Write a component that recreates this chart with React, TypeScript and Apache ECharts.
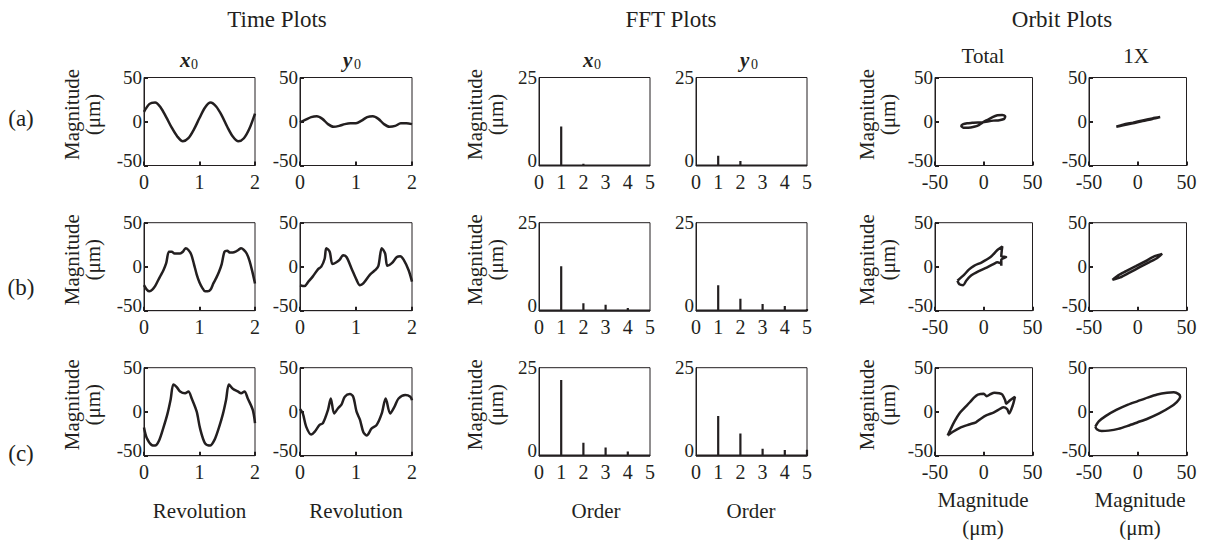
import React, { useEffect, useRef } from "react";
import * as echarts from "echarts";

const INK = "#231f20";
const FONT = "'Liberation Serif', 'Times New Roman', serif";

// ---------- Time plots (revolution, magnitude µm) ----------
const timeX0A = [[0, 11], [0.1, 20], [0.2, 21.5], [0.3, 16], [0.4, 5], [0.5, -7], [0.6, -17], [0.7, -22.5], [0.8, -19], [0.9, -9], [1.0, 4], [1.1, 16], [1.2, 21.5], [1.3, 17], [1.4, 7], [1.5, -6], [1.6, -17], [1.7, -22.5], [1.8, -19], [1.9, -8], [2.0, 9]];
const timeY0A = [[0, -1], [0.1, 2], [0.2, 5], [0.3, 6], [0.4, 3], [0.5, -3], [0.6, -6], [0.7, -5], [0.8, -3], [0.9, -2], [1.0, -2], [1.1, 1], [1.2, 5], [1.3, 6], [1.4, 3], [1.5, -3], [1.6, -6], [1.7, -5], [1.8, -2], [1.9, -2], [2.0, -3]];
const timeX0B = [[0, -21], [0.05, -26], [0.1, -28], [0.15, -26], [0.2, -22], [0.25, -16], [0.3, -10], [0.35, -4], [0.4, 4], [0.45, 17], [0.5, 17], [0.55, 15], [0.6, 15], [0.65, 15], [0.7, 17], [0.75, 21], [0.8, 19], [0.85, 14], [0.9, 3], [0.95, -9], [1.0, -18], [1.05, -24], [1.1, -28], [1.15, -28], [1.2, -26], [1.25, -19], [1.3, -13], [1.35, -6], [1.4, 3], [1.45, 17], [1.5, 18], [1.55, 16], [1.6, 16], [1.65, 17], [1.7, 19], [1.75, 21], [1.8, 19], [1.85, 15], [1.9, 7], [1.95, -5], [2.0, -19]];
const timeY0B = [[0, -21], [0.08, -22], [0.15, -17], [0.23, -11], [0.32, -3], [0.38, 0], [0.44, 9], [0.47, 21], [0.53, 17], [0.58, 3], [0.65, 5], [0.71, 8], [0.77, 13], [0.83, 11], [0.92, -2], [1.01, -15], [1.07, -21], [1.13, -19], [1.25, -9], [1.34, -4], [1.4, 1], [1.46, 21], [1.52, 15], [1.56, 1], [1.64, 4], [1.73, 11], [1.79, 12], [1.85, 8], [1.94, -4], [2.0, -17]];
const timeX0C = [[0, -18], [0.05, -30], [0.14, -38], [0.2, -38.5], [0.27, -33], [0.35, -18], [0.42, -3], [0.48, 14], [0.53, 31], [0.59, 28], [0.65, 23], [0.74, 21], [0.8, 23], [0.86, 15], [0.95, 0], [1.01, -19], [1.1, -36], [1.19, -38.5], [1.27, -32], [1.35, -18], [1.42, -3], [1.48, 14], [1.53, 31], [1.6, 26], [1.69, 23], [1.75, 21], [1.81, 23], [1.87, 15], [1.96, 2], [2.0, -13]];
const timeY0C = [[0, 3], [0.05, -2], [0.11, -17], [0.2, -26], [0.26, -23], [0.35, -15], [0.41, -13], [0.5, 2], [0.55, 15], [0.61, -2], [0.68, 4], [0.74, 8], [0.8, 17], [0.89, 20], [0.95, 17], [1.01, 0], [1.07, -9], [1.13, -23], [1.19, -27], [1.28, -19], [1.37, -15], [1.46, -2], [1.53, 15], [1.61, -2], [1.69, 6], [1.76, 15], [1.88, 19], [1.97, 17], [2.0, 13]];

// ---------- FFT plots (order, magnitude µm) ----------
const orders = [1, 2, 3, 4, 5];
const fftX0A = [11.1, 0.5, 0.1, 0.1, 0];
const fftY0A = [2.8, 1.3, 0.2, 0.1, 0];
const fftX0B = [12.6, 2.1, 1.7, 0.8, 0.1];
const fftY0B = [7.2, 3.4, 1.9, 1.3, 0.5];
const fftX0C = [21.5, 3.7, 2.3, 1.2, 0.1];
const fftY0C = [11.3, 6.3, 2.0, 1.6, 1.7];

// ---------- Orbit plots (x µm, y µm) ----------
const orbitTotalA = [[-1, -1], [-6, -1], [-12, -1.5], [-17, -2], [-21, -3], [-23, -5], [-21, -7], [-16, -7], [-10, -6], [-5, -4], [-1, -1], [4, 2], [9, 5], [14, 7], [19, 7.5], [22, 6], [21, 3], [16, 1.5], [10, 1], [4, 0], [-1, -1]];
const orbit1xA = [[-22, -6], [-15, -4.4], [-5, -2], [5, 0.6], [15, 2.9], [23, 5], [15, 3.5], [5, 1.2], [-5, -1.3], [-15, -3.7], [-22, -6]];
const orbitTotalB = [[-27, -16], [-25, -20], [-21, -21], [-18, -16], [-13, -10], [-5, -5], [3, -1], [10, 3], [14, 5], [18, 3], [18, 1], [18, 8], [23, 11], [18, 12], [19, 23], [14, 19], [7, 11], [-2, 5], [-10, 1], [-15, -3], [-20, -9], [-27, -16]];
const orbit1xB = [[-26, -15], [-18, -12.2], [-8, -6.4], [2, -0.6], [12, 5.1], [20, 9.8], [25, 14.5], [18, 12.2], [8, 6.4], [-2, 0.6], [-12, -5.1], [-20, -9.8], [-26, -15]];
const orbitTotalC = [[-37, -27], [-34, -20], [-30, -11], [-25, -2], [-20, 4], [-14, 11], [-10, 16], [-6, 19.5], [0, 20.5], [3, 17.6], [7, 20], [11, 21.5], [16, 21], [19, 19.5], [22, 13], [23, 9], [27, 13], [32, 17], [30, 8], [26, -2], [24, 3], [20, 5], [15, 2], [10, -1], [3, -4], [-3, -8], [-8, -12], [-15, -14.5], [-24, -18], [-32, -23], [-37, -27]];
const orbit1xC = [[-43.5, -17], [-40, -11], [-33, -5], [-22, 2], [-10, 8], [0, 12], [10, 16], [20, 19.5], [30, 21.5], [37, 22], [42, 20], [43.5, 17], [40, 11], [33, 5], [22, -2], [10, -8], [0, -12], [-10, -16], [-20, -19.5], [-30, -21.5], [-37, -22], [-42, -20], [-43.5, -17]];

// ---------- Text ----------
const groupTitles = ["Time Plots", "FFT Plots", "Orbit Plots"];
const rowLabels = ["(a)", "(b)", "(c)"];
const signalNames = ["x", "y", "x", "y"];
const orbitHeaders = ["Total", "1X"];
const xNames = ["Revolution", "Revolution", "Order", "Order", "Magnitude\n(μm)", "Magnitude\n(μm)"];
const yName = "Magnitude\n(μm)";

// ---------- Layout ----------
const colLeft = [144, 300, 539, 696, 935, 1089];
const colWidth = [111, 112, 111, 111, 97.5, 97.5];
const rowTop = [77.5, 222.7, 367.7];
const panelH = 88;
const kinds = ["time", "time", "fft", "fft", "orbit", "orbit"];
const ranges: any = {
  time: { x: [0, 2, 1], y: [-50, 50, 50] },
  fft: { x: [0, 5, 1], y: [0, 25, 25] },
  orbit: { x: [-50, 50, 50], y: [-50, 50, 50] },
};

function spikes(amps: number[]) {
  const d: number[][] = [[0, 0]];
  orders.forEach((o, i) => {
    d.push([o, 0], [o, amps[i]], [o, 0]);
  });
  d.push([5, 0]);
  return d;
}

const panelData = [
  [timeX0A, timeY0A, spikes(fftX0A), spikes(fftY0A), orbitTotalA, orbit1xA],
  [timeX0B, timeY0B, spikes(fftX0B), spikes(fftY0B), orbitTotalB, orbit1xB],
  [timeX0C, timeY0C, spikes(fftX0C), spikes(fftY0C), orbitTotalC, orbit1xC],
];

function txt(text: string, x: number, y: number, fontSize: number, extra: any = {}) {
  const { rotation, align, ...styleExtra } = extra;
  return {
    type: "text",
    x,
    y,
    rotation: rotation || 0,
    silent: true,
    style: {
      text,
      fill: INK,
      fontSize,
      fontFamily: FONT,
      align: align || "center",
      verticalAlign: "middle",
      textAlign: align || "center",
      textVerticalAlign: "middle",
      ...styleExtra,
    },
  };
}

function buildOption() {
  const grid: any[] = [];
  const xAxis: any[] = [];
  const yAxis: any[] = [];
  const series: any[] = [];
  for (let r = 0; r < 3; r++) {
    for (let c = 0; c < 6; c++) {
      const i = r * 6 + c;
      const kind = kinds[c];
      const rg = ranges[kind];
      grid.push({
        left: colLeft[c],
        top: rowTop[r],
        width: colWidth[c],
        height: panelH,
        show: true,
        borderColor: INK,
        borderWidth: 1,
        backgroundColor: "transparent",
      });
      const common = (range: number[]) => ({
        gridIndex: i,
        type: "value",
        min: range[0],
        max: range[1],
        interval: range[2],
        axisLine: { show: true, onZero: false, lineStyle: { color: INK, width: 1 } },
        axisTick: { show: kind !== "fft", inside: true, length: 4, lineStyle: { color: INK, width: 2 } },
        splitLine: { show: false },
      });
      xAxis.push({
        ...common(rg.x),
        axisLabel: { fontSize: 20, fontFamily: FONT, color: INK, margin: 6.5 },
      });
      const yMin = rg.y[0];
      yAxis.push({
        ...common(rg.y),
        axisLabel: {
          margin: 2,
          formatter: (v: number) => (v === yMin ? `{lo|${v}}` : `{n|${v}}`),
          rich: {
            lo: { fontSize: 19, fontFamily: FONT, color: INK, padding: [0, 0, 10, 0] },
            n: { fontSize: 19, fontFamily: FONT, color: INK },
          },
        },
      });
      series.push({
        type: "line",
        xAxisIndex: i,
        yAxisIndex: i,
        data: panelData[r][c],
        showSymbol: false,
        symbol: "none",
        smooth: kind === "fft" ? false : kind === "time" ? 0.3 : 0.25,
        clip: kind !== "fft",
        lineStyle: { color: INK, width: kind === "fft" ? 2.2 : 2.5 },
        silent: true,
      });
    }
  }

  const graphic: any[] = [];
  // group titles
  const titleX = [277, 671, 1062];
  groupTitles.forEach((t, k) => graphic.push(txt(t, titleX[k], 19, 23)));
  // signal headers (x0 / y0)
  const headerLeft = [180, 343, 583, 740];
  signalNames.forEach((s, k) => {
    graphic.push(txt(s, headerLeft[k], 59.6, 21, { align: "left", fontStyle: "italic", fontWeight: "bold" }));
    graphic.push(txt("0", headerLeft[k] + 11, 64.5, 14, { align: "left" }));
  });
  // orbit headers
  const orbitHeadX = [983, 1136];
  orbitHeaders.forEach((h, k) => graphic.push(txt(h, orbitHeadX[k], 56, 21)));
  // row labels
  const rowLabelY = [118, 287, 453];
  rowLabels.forEach((l, k) => graphic.push(txt(l, 21, rowLabelY[k], 23)));
  // y-axis names
  const yNameX = [82.5, 485.5, 877.5];
  for (let r = 0; r < 3; r++) {
    const cy = rowTop[r] + panelH / 2 - 7;
    yNameX.forEach((x) => graphic.push(txt(yName, x, cy, 21, { rotation: Math.PI / 2, lineHeight: 21 })));
  }
  // x-axis names (bottom row)
  const xNameX = [199.5, 356, 596, 751, 983, 1140];
  xNames.forEach((n, c) => {
    if (c >= 4) graphic.push(txt(n, xNameX[c], 514, 21, { lineHeight: 28 }));
    else graphic.push(txt(n, xNameX[c], 511, 21));
  });

  return {
    animation: false,
    backgroundColor: "#ffffff",
    grid,
    xAxis,
    yAxis,
    series,
    graphic,
  };
}

export default function App() {
  const ref = useRef<HTMLDivElement>(null);
  useEffect(() => {
    document.body.style.margin = "0";
    const chart = echarts.init(ref.current!, undefined, { renderer: "svg" });
    chart.setOption(buildOption() as any);
    return () => chart.dispose();
  }, []);
  return <div ref={ref} style={{ width: 1207, height: 541 }} />;
}
